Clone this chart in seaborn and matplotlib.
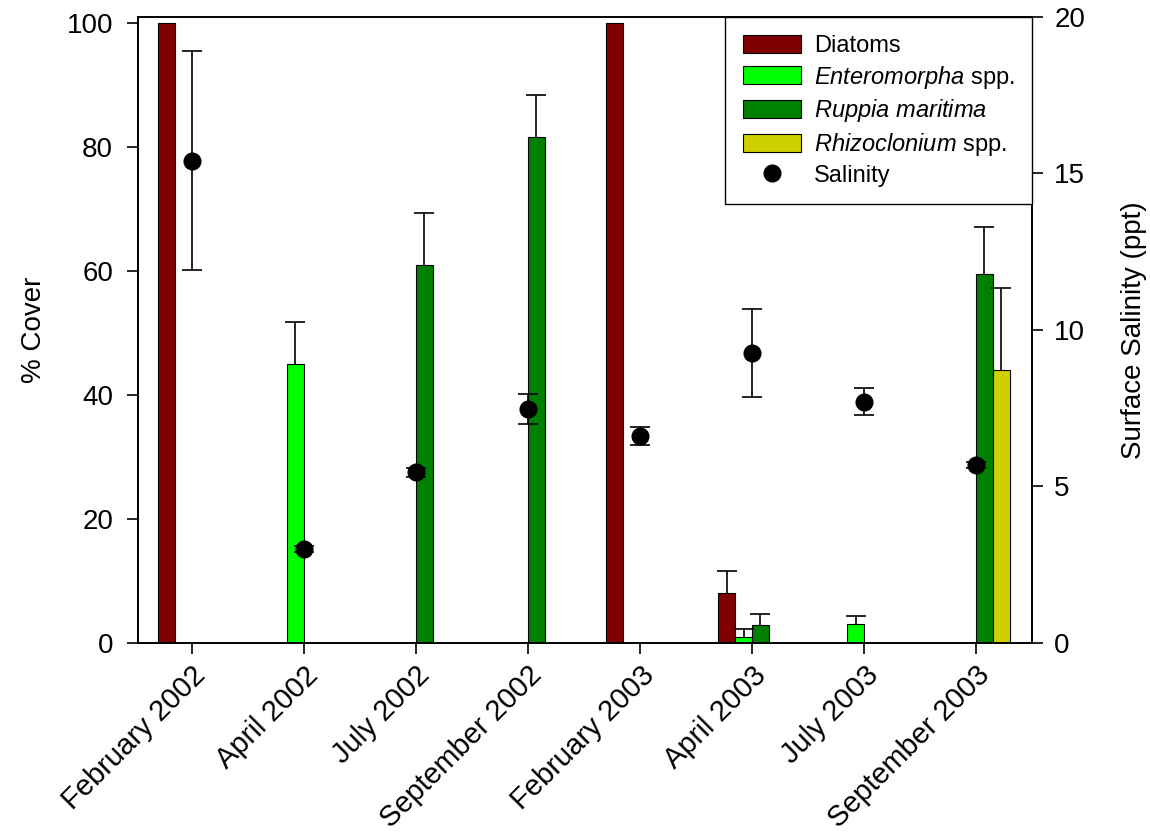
import numpy as np
import pandas as pd
import matplotlib
matplotlib.use("Agg")
import matplotlib.pyplot as plt
import seaborn as sns
from matplotlib.patches import Patch
from matplotlib.lines import Line2D

# ---- data ----
months = ["February 2002", "April 2002", "July 2002", "September 2002",
          "February 2003", "April 2003", "July 2003", "September 2003"]
species = ["Diatoms", "Enteromorpha", "Ruppia", "Rhizoclonium"]
diatoms = [100, 0, 0, 0, 100, 8.1, 0, 0]
diatoms_err = [0, 0, 0, 0, 0, 3.5, 0, 0]
enteromorpha = [0, 45.0, 0, 0, 0, 1.0, 3.0, 0]
enteromorpha_err = [0, 6.8, 0, 0, 0, 1.2, 1.4, 0]
ruppia = [0, 0, 60.9, 81.6, 0, 2.9, 0, 59.5]
ruppia_err = [0, 0, 8.5, 6.8, 0, 1.7, 0, 7.6]
rhizoclonium = [0, 0, 0, 0, 0, 0, 0, 44.1]
rhizoclonium_err = [0, 0, 0, 0, 0, 0, 0, 13.2]
salinity = [15.4, 3.0, 5.45, 7.47, 6.61, 9.27, 7.71, 5.69]
salinity_err = [3.5, 0.1, 0.15, 0.47, 0.29, 1.4, 0.42, 0.1]

legend_labels = ["Diatoms", r"$\it{Enteromorpha}$ spp.", r"$\it{Ruppia\ maritima}$",
                 r"$\it{Rhizoclonium}$ spp.", "Salinity"]
colors = ["#800000", "#00FF00", "#008000", "#D0D000"]

values = [diatoms, enteromorpha, ruppia, rhizoclonium]
errors = [diatoms_err, enteromorpha_err, ruppia_err, rhizoclonium_err]

df = pd.DataFrame({
    "month": np.repeat([months], 4, axis=0).ravel(),
    "species": np.repeat(species, len(months)),
    "cover": np.concatenate(values),
})

sns.set_style("ticks")
plt.rcParams["font.family"] = ["Liberation Sans", "DejaVu Sans"]
plt.rcParams["mathtext.fontset"] = "custom"
plt.rcParams["mathtext.rm"] = "Liberation Sans"
plt.rcParams["mathtext.it"] = "Liberation Sans:italic"
plt.rcParams["text.color"] = "black"
plt.rcParams["axes.labelcolor"] = "black"
plt.rcParams["xtick.color"] = "black"
plt.rcParams["ytick.color"] = "black"

LW = 1.2
fig = plt.figure(figsize=(11.5, 8.36), dpi=100)
ax = fig.add_axes([0.12, 0.2309, 0.7774, 0.7488])

sns.barplot(data=df, x="month", y="cover", hue="species", order=months,
            hue_order=species, palette=colors, width=0.6, saturation=1,
            edgecolor="black", linewidth=0.8, errorbar=None, legend=False, ax=ax)

# upper-only error bars on the bars
for cont, err in zip(ax.containers, errors):
    for bar, e in zip(cont, err):
        if e > 0:
            xc = bar.get_x() + bar.get_width() / 2
            eb = ax.errorbar(xc, bar.get_height(), yerr=[[0], [e]], fmt="none",
                             ecolor="black", elinewidth=LW, capsize=7, capthick=LW)
            caps = eb.lines[1]
            if len(caps) == 2:
                caps[0].set_visible(False)

ax.set_ylim(0, 100.97)
ax.set_xlim(-0.48, 7.5)
ax.set_yticks([0, 20, 40, 60, 80, 100])
ax.set_ylabel("% Cover", fontsize=20, labelpad=14)
ax.set_xlabel("")
ax.tick_params(axis="both", labelsize=20, length=8, width=LW, direction="out",
               colors="black")
ax.tick_params(axis="y", pad=10)
ax.set_xticks(range(len(months)))
ax.set_xticklabels(months, rotation=45, ha="right", rotation_mode="anchor")
ax.tick_params(axis="x", labelsize=21, pad=5)
for sp in ax.spines.values():
    sp.set_linewidth(LW)
    sp.set_color("black")

ax2 = ax.twinx()
ax2.errorbar(np.arange(len(months)), salinity, yerr=salinity_err, fmt="o",
             color="black", ms=12, ecolor="black", elinewidth=LW,
             capsize=7, capthick=LW)
ax2.set_ylim(0, 20)
ax2.set_yticks([0, 5, 10, 15, 20])
ax2.set_ylabel("Surface Salinity (ppt)", fontsize=20, labelpad=26)
ax2.tick_params(axis="y", labelsize=20, length=8, width=LW, direction="out",
                colors="black", pad=8)
for sp in ax2.spines.values():
    sp.set_linewidth(LW)
    sp.set_color("black")

handles = [Patch(facecolor=c, edgecolor="black", linewidth=0.8) for c in colors]
handles.append(Line2D([], [], marker="o", ls="none", color="black", ms=12))
leg = ax2.legend(handles, legend_labels, loc="upper right", fontsize=17,
                 frameon=True, fancybox=False, framealpha=1, edgecolor="black",
                 borderaxespad=0, handlelength=2.45, handleheight=0.8,
                 labelspacing=0.28, borderpad=0.75, handletextpad=0.55)
leg.get_frame().set_linewidth(1.0)

fig.savefig("out.png", dpi=100)
